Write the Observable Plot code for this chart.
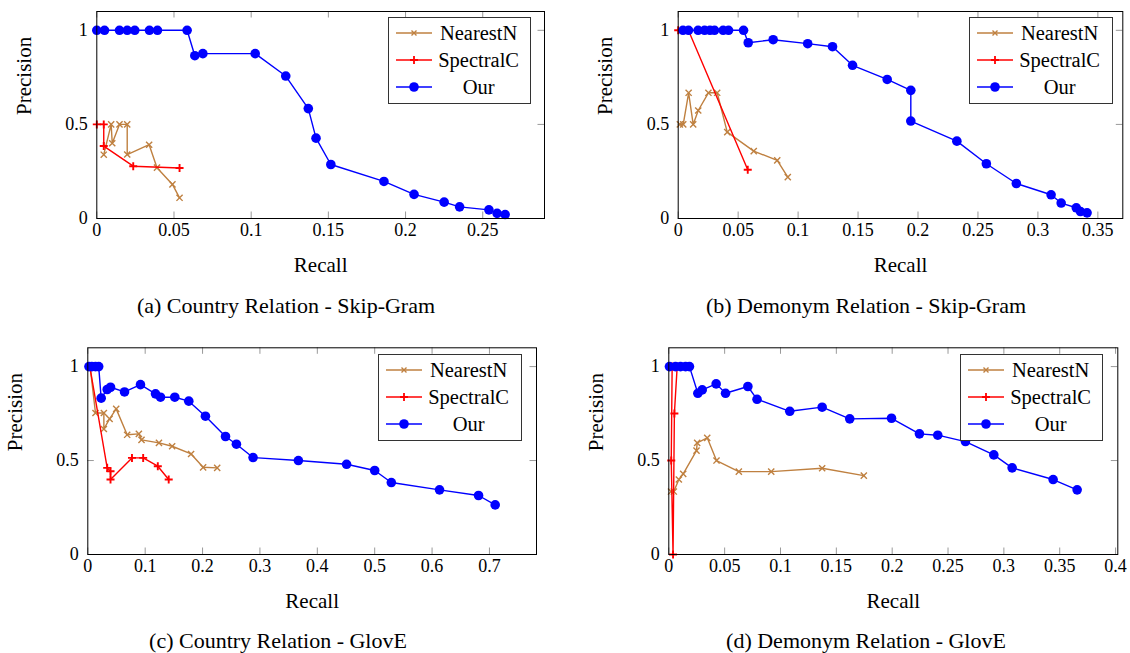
<!DOCTYPE html>
<html><head><meta charset="utf-8">
<script src="https://cdn.jsdelivr.net/npm/d3@7"></script>
<script src="https://cdn.jsdelivr.net/npm/@observablehq/plot@0.6"></script>
<style>
body{margin:0;background:#fff;}
#root{position:relative;width:1130px;height:653px;overflow:hidden;background:#fff;font-family:"Liberation Serif","Times New Roman",serif;}
.panel{position:absolute;}
.cap{position:absolute;width:500px;text-align:center;font-size:22px;line-height:24px;color:#000;white-space:nowrap;}
.legend{position:absolute;background:#fff;border:1px solid #333;box-sizing:border-box;}
.legend svg{display:block;}
</style></head><body><div id="root"></div>
<script>
// ---------- data ----------
const seriesNames = ["NearestN", "SpectralC", "Our"];
const yTicks = [0, 0.5, 1];
const yTickLabels = ["0", "0.5", "1"];

// (a) Country Relation - Skip-Gram
const a_xTicks = [0, 0.05, 0.1, 0.15, 0.2, 0.25];
const a_xTickLabels = ["0", "0.05", "0.1", "0.15", "0.2", "0.25"];
const a_nn_recall = [0.0045, 0.0093, 0.010, 0.0147, 0.0197, 0.0197, 0.0339, 0.039, 0.049, 0.0536];
const a_nn_precision = [0.339, 0.50, 0.40, 0.50, 0.50, 0.34, 0.392, 0.27, 0.181, 0.11];
const a_sc_recall = [0, 0.0045, 0.0045, 0.0236, 0.0536];
const a_sc_precision = [0.5, 0.5, 0.385, 0.278, 0.268];
const a_our_recall = [0, 0.005, 0.0147, 0.0197, 0.0246, 0.0341, 0.0393, 0.0585, 0.0635, 0.0687, 0.1026, 0.1224, 0.137, 0.142, 0.1516, 0.186, 0.2055, 0.225, 0.235, 0.254, 0.2593, 0.2645];
const a_our_precision = [1, 1, 1, 1, 1, 1, 1, 1, 0.865, 0.876, 0.876, 0.757, 0.584, 0.427, 0.287, 0.197, 0.128, 0.087, 0.062, 0.046, 0.027, 0.021];

// (b) Demonym Relation - Skip-Gram
const b_xTicks = [0, 0.05, 0.1, 0.15, 0.2, 0.25, 0.3, 0.35];
const b_xTickLabels = ["0", "0.05", "0.1", "0.15", "0.2", "0.25", "0.3", "0.35"];
const b_nn_recall = [0.0014, 0.0042, 0.0087, 0.0125, 0.0167, 0.0252, 0.0325, 0.0409, 0.063, 0.0826, 0.0914];
const b_nn_precision = [0.5, 0.5, 0.668, 0.5, 0.574, 0.668, 0.668, 0.459, 0.358, 0.309, 0.22];
const b_sc_recall = [0, 0.0085, 0.058];
const b_sc_precision = [1, 1, 0.259];
const b_our_recall = [0.004, 0.0086, 0.0166, 0.022, 0.0265, 0.0303, 0.0375, 0.042, 0.0545, 0.0584, 0.0792, 0.108, 0.1287, 0.1454, 0.1743, 0.194, 0.194, 0.2324, 0.257, 0.282, 0.311, 0.3194, 0.332, 0.3355, 0.341];
const b_our_precision = [1, 1, 1, 1, 1, 1, 1, 1, 1, 0.934, 0.950, 0.929, 0.913, 0.814, 0.739, 0.681, 0.518, 0.411, 0.291, 0.186, 0.126, 0.082, 0.057, 0.037, 0.030];

// (c) Country Relation - GlovE
const c_xTicks = [0, 0.1, 0.2, 0.3, 0.4, 0.5, 0.6, 0.7];
const c_xTickLabels = ["0", "0.1", "0.2", "0.3", "0.4", "0.5", "0.6", "0.7"];
const c_nn_recall = [0.004, 0.0134, 0.028, 0.028, 0.038, 0.0495, 0.0686, 0.089, 0.0936, 0.124, 0.147, 0.180, 0.201, 0.2255];
const c_nn_precision = [1, 0.753, 0.753, 0.668, 0.722, 0.775, 0.637, 0.642, 0.61, 0.594, 0.576, 0.535, 0.464, 0.461];
const c_sc_recall = [0.0035, 0.0338, 0.0396, 0.0396, 0.077, 0.0965, 0.122, 0.141];
const c_sc_precision = [1, 0.461, 0.443, 0.399, 0.514, 0.514, 0.47, 0.399];
const c_our_recall = [0.002, 0.007, 0.0134, 0.019, 0.0233, 0.0338, 0.0396, 0.064, 0.0918, 0.118, 0.1267, 0.1516, 0.176, 0.205, 0.24, 0.259, 0.288, 0.367, 0.451, 0.5, 0.529, 0.613, 0.681, 0.710];
const c_our_precision = [1, 1, 1, 1, 0.832, 0.878, 0.89, 0.865, 0.904, 0.855, 0.837, 0.837, 0.816, 0.736, 0.628, 0.587, 0.516, 0.5, 0.48, 0.447, 0.383, 0.344, 0.314, 0.264];

// (d) Demonym Relation - GlovE
const d_xTicks = [0, 0.05, 0.1, 0.15, 0.2, 0.25, 0.3, 0.35, 0.4];
const d_xTickLabels = ["0", "0.05", "0.1", "0.15", "0.2", "0.25", "0.3", "0.35", "0.4"];
const d_nn_recall = [0.002, 0.0045, 0.009, 0.0129, 0.0248, 0.0254, 0.0344, 0.0427, 0.0627, 0.0917, 0.1373, 0.1746];
const d_nn_precision = [0.335, 0.335, 0.399, 0.429, 0.553, 0.594, 0.621, 0.5, 0.441, 0.441, 0.459, 0.42];
const d_sc_recall = [0.003, 0.0022, 0.0038, 0.005, 0.0075];
const d_sc_precision = [1, 0.5, 0, 0.75, 1];
const d_our_recall = [0.0006, 0.006, 0.0105, 0.015, 0.0185, 0.026, 0.0299, 0.0424, 0.0508, 0.0708, 0.079, 0.1083, 0.1373, 0.162, 0.1994, 0.2244, 0.2408, 0.2656, 0.291, 0.3074, 0.3441, 0.3656];
const d_our_precision = [1, 1, 1, 1, 1, 0.858, 0.876, 0.908, 0.858, 0.894, 0.826, 0.762, 0.784, 0.722, 0.725, 0.642, 0.635, 0.601, 0.53, 0.461, 0.399, 0.344];

// ---------- layout / style ----------
const BROWN = "rgb(191,128,64)", RED = "#ff0000", BLUE = "#0000ff";
const FONT = "Liberation Serif, Times New Roman, serif";
const zipPts = (r, p) => r.map((x, i) => ({recall: x, precision: p[i]}));

const panels = [
  {left: 0, top: 0, w: 565, h: 290, ml: 96.3, mr: 21, mt: 11, mb: 72, xmax: 0.29,
   xt: a_xTicks, xl: a_xTickLabels,
   nn: zipPts(a_nn_recall, a_nn_precision), sc: zipPts(a_sc_recall, a_sc_precision), our: zipPts(a_our_recall, a_our_precision),
   caption: "(a) Country Relation - Skip-Gram", capX: 286, capY: 306, legX: 387.7, legY: 17.3},
  {left: 565, top: 0, w: 565, h: 290, ml: 112.7, mr: 7.7, mt: 11, mb: 72, xmax: 0.3708,
   xt: b_xTicks, xl: b_xTickLabels,
   nn: zipPts(b_nn_recall, b_nn_precision), sc: zipPts(b_sc_recall, b_sc_precision), our: zipPts(b_our_recall, b_our_precision),
   caption: "(b) Demonym Relation - Skip-Gram", capX: 866, capY: 306, legX: 969.3, legY: 17.3},
  {left: 0, top: 330, w: 565, h: 290, ml: 87.3, mr: 29, mt: 17.3, mb: 66, xmax: 0.782,
   xt: c_xTicks, xl: c_xTickLabels,
   nn: zipPts(c_nn_recall, c_nn_precision), sc: zipPts(c_sc_recall, c_sc_precision), our: zipPts(c_our_recall, c_our_precision),
   caption: "(c) Country Relation - GlovE", capX: 278, capY: 641, legX: 378.3, legY: 354},
  {left: 565, top: 330, w: 565, h: 290, ml: 103.3, mr: 12.7, mt: 17.3, mb: 66, xmax: 0.402,
   xt: d_xTicks, xl: d_xTickLabels,
   nn: zipPts(d_nn_recall, d_nn_precision), sc: zipPts(d_sc_recall, d_sc_precision), our: zipPts(d_our_recall, d_our_precision),
   caption: "(d) Demonym Relation - GlovE", capX: 866, capY: 641, legX: 960, legY: 354}
];

const root = document.getElementById("root");
const YMAX = 1.1, TICK = 6.5;

for (const P of panels) {
  const iw = P.w - P.ml - P.mr, ih = P.h - P.mt - P.mb;
  const ty = TICK * YMAX / ih, tx = TICK * P.xmax / iw;
  const lab = (vals, labels) => d => labels[vals.indexOf(d)];
  const chart = Plot.plot({
    width: P.w, height: P.h,
    marginLeft: P.ml, marginRight: P.mr, marginTop: P.mt, marginBottom: P.mb,
    x: {domain: [0, P.xmax], axis: null},
    y: {domain: [0, YMAX], axis: null},
    style: {fontFamily: FONT, fontSize: "18px", background: "transparent", overflow: "visible", color: "#000"},
    marks: [
      Plot.ruleX(P.xt, {x: d => d, y1: 0, y2: ty, stroke: "#999", strokeWidth: 1}),
      Plot.ruleX(P.xt, {x: d => d, y1: YMAX - ty, y2: YMAX, stroke: "#999", strokeWidth: 1}),
      Plot.ruleY(yTicks, {y: d => d, x1: 0, x2: tx, stroke: "#999", strokeWidth: 1}),
      Plot.ruleY(yTicks, {y: d => d, x1: P.xmax - tx, x2: P.xmax, stroke: "#999", strokeWidth: 1}),
      Plot.text(P.xt, {x: d => d, y: 0, dy: 12, text: lab(P.xt, P.xl), lineAnchor: "middle", fontSize: 18, fill: "#000"}),
      Plot.text(yTicks, {x: 0, y: d => d, dx: -9, text: lab(yTicks, yTickLabels), textAnchor: "end", lineAnchor: "middle", fontSize: 18, fill: "#000"}),
      Plot.text(["Recall"], {frameAnchor: "bottom", dy: 47, text: d => d, fontSize: 21, lineAnchor: "middle", fill: "#000"}),
      Plot.text(["Precision"], {frameAnchor: "left", dx: -73, rotate: -90, text: d => d, fontSize: 21, lineAnchor: "middle", fill: "#000"}),
      Plot.line(P.nn, {x: "recall", y: "precision", stroke: BROWN, strokeWidth: 1.4}),
      Plot.dot(P.nn, {x: "recall", y: "precision", symbol: "times", stroke: BROWN, strokeWidth: 1.4, r: 2.9}),
      Plot.line(P.sc, {x: "recall", y: "precision", stroke: RED, strokeWidth: 1.4}),
      Plot.dot(P.sc, {x: "recall", y: "precision", symbol: "plus", stroke: RED, strokeWidth: 1.9, r: 2.7}),
      Plot.line(P.our, {x: "recall", y: "precision", stroke: BLUE, strokeWidth: 1.4}),
      Plot.dot(P.our, {x: "recall", y: "precision", fill: BLUE, r: 4.8}),
      Plot.frame({stroke: "#000", strokeWidth: 1})
    ]
  });
  const div = document.createElement("div");
  div.className = "panel";
  div.style.left = P.left + "px"; div.style.top = P.top + "px";
  div.appendChild(chart);
  root.appendChild(div);

  const cap = document.createElement("div");
  cap.className = "cap";
  cap.textContent = P.caption;
  cap.style.left = (P.capX - 250) + "px";
  cap.style.top = (P.capY - 12) + "px";
  root.appendChild(cap);

  const lg = document.createElement("div");
  lg.className = "legend";
  lg.style.left = P.legX + "px"; lg.style.top = P.legY + "px";
  lg.style.width = "143.3px"; lg.style.height = "87px";
  const rows = [16, 43, 70];
  const cols = [BROWN, RED, BLUE];
  let s = `<svg width="141" height="85" viewBox="1 1 141 85" font-family="${FONT}" font-size="20.5">`;
  seriesNames.forEach((n, i) => {
    const y = rows[i];
    s += `<line x1="8" x2="44" y1="${y}" y2="${y}" stroke="${cols[i]}" stroke-width="1.4"/>`;
    if (i === 0) s += `<path d="M23.5,${y-2.5}L28.5,${y+2.5}M23.5,${y+2.5}L28.5,${y-2.5}" stroke="${BROWN}" stroke-width="1.4"/>`;
    if (i === 1) s += `<path d="M22,${y}H30M26,${y-4}V${y+4}" stroke="${RED}" stroke-width="1.8"/>`;
    if (i === 2) s += `<circle cx="26" cy="${y}" r="4.8" fill="${BLUE}"/>`;
    s += `<text x="90.6" y="${y}" text-anchor="middle" dominant-baseline="central" fill="#000">${n}</text>`;
  });
  s += `</svg>`;
  lg.innerHTML = s;
  root.appendChild(lg);
}
</script>
</body></html>
